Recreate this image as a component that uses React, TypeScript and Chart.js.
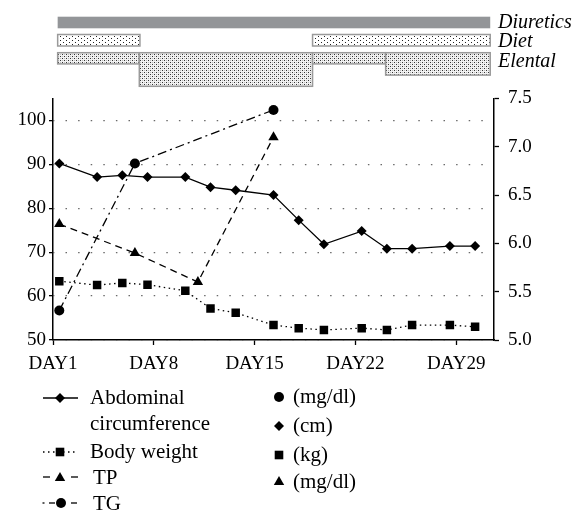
import React, { useEffect, useRef } from 'react';
import { Chart, registerables } from 'chart.js';

Chart.register(...registerables);

// ---- axis ticks ----
const xTickPositions = [0, 8, 16, 24, 32];
const xTickLabels = ['DAY1', 'DAY8', 'DAY15', 'DAY22', 'DAY29'];
const leftTicks = [50, 60, 70, 80, 90, 100];
const rightTicks = [5.0, 5.5, 6.0, 6.5, 7.0, 7.5];

// ---- series ----
const measureX = [0.5, 3.5, 5.5, 7.5, 10.5, 12.5, 14.5, 17.5, 19.5, 21.5, 24.5, 26.5, 28.5, 31.5, 33.5];
const abdominal = [90.2, 87.1, 87.5, 87.1, 87.1, 84.8, 84.1, 83.0, 77.3, 71.8, 74.8, 70.8, 70.8, 71.4, 71.4];
const bodyWeight = [63.4, 62.5, 63.0, 62.6, 61.2, 57.2, 56.2, 53.4, 52.7, 52.3, 52.7, 52.3, 53.4, 53.4, 53.0];
const tpX = [0.5, 6.5, 11.5, 17.5];
const tp = [6.2, 5.9, 5.6, 7.1];
const tgX = [0.5, 6.5, 17.5];
const tg = [56.7, 90.2, 102.4];

// ---- treatment bars (x in chart units) ----
const treatmentLabels = ['Diuretics', 'Diet', 'Elental'];
const diureticsSpans = [[0.37, 34.7]];
const dietSpans = [[0.37, 6.9], [20.6, 34.7]];
const elentalSpans = [[0.37, 6.85], [6.85, 20.6], [20.6, 26.4], [26.4, 34.7]];
const elentalLevels = [1, 3, 1, 2];

// ---- legend ----
const seriesNames = ['Abdominal\ncircumference', 'Body weight', 'TP', 'TG'];
const unitLabels = ['(mg/dl)', '(cm)', '(kg)', '(mg/dl)'];

const FONT = "'Liberation Serif'";

function drawMarker(ctx: CanvasRenderingContext2D, style: string, x: number, y: number) {
  ctx.save();
  ctx.fillStyle = '#000';
  ctx.beginPath();
  if (style === 'circle') {
    ctx.arc(x, y, 5, 0, Math.PI * 2);
  } else if (style === 'diamond') {
    ctx.moveTo(x, y - 5); ctx.lineTo(x + 5, y); ctx.lineTo(x, y + 5); ctx.lineTo(x - 5, y); ctx.closePath();
  } else if (style === 'square') {
    ctx.rect(x - 4.3, y - 4.3, 8.6, 8.6);
  } else if (style === 'triangle') {
    ctx.moveTo(x, y - 6); ctx.lineTo(x + 5.2, y + 3); ctx.lineTo(x - 5.2, y + 3); ctx.closePath();
  }
  ctx.fill();
  ctx.restore();
}

function makePattern(ctx: CanvasRenderingContext2D, w: number, h: number, bg: string, dots: [number, number, string][]) {
  const c = document.createElement('canvas');
  c.width = w; c.height = h;
  const g = c.getContext('2d')!;
  g.fillStyle = bg; g.fillRect(0, 0, w, h);
  dots.forEach(([x, y, col]) => { g.fillStyle = col; g.fillRect(x, y, 1, 1); });
  return ctx.createPattern(c, 'repeat')!;
}

const extrasPlugin = {
  id: 'extras',
  afterDraw(chart: any) {
    const ctx: CanvasRenderingContext2D = chart.ctx;
    const xs = chart.scales.x;
    const px = (v: number) => xs.getPixelForValue(v);
    ctx.save();
    // Diuretics
    ctx.fillStyle = '#939598';
    diureticsSpans.forEach(([a, b]) => ctx.fillRect(px(a), 16.7, px(b) - px(a), 11.6));
    // Diet
    const dietPat = makePattern(ctx, 6, 4, '#ffffff', [[0, 0, '#222'], [3, 2, '#222']]);
    ctx.strokeStyle = '#9a9a9a';
    ctx.lineWidth = 1.5;
    dietSpans.forEach(([a, b]) => {
      ctx.fillStyle = dietPat;
      ctx.fillRect(px(a), 34.5, px(b) - px(a), 11.5);
      ctx.strokeRect(px(a), 34.5, px(b) - px(a), 11.5);
    });
    // Elental
    const elPat = makePattern(ctx, 4, 4, '#f2f2f2', [[0, 0, '#333'], [2, 2, '#333'], [2, 0, '#bbb'], [0, 2, '#bbb']]);
    elentalSpans.forEach(([a, b], i) => {
      const h = 11.2 * elentalLevels[i];
      ctx.fillStyle = elPat;
      ctx.fillRect(px(a), 52.7, px(b) - px(a), h);
      ctx.strokeRect(px(a), 52.7, px(b) - px(a), h);
    });
    // Treatment labels
    ctx.fillStyle = '#000';
    ctx.font = `italic 20px ${FONT}`;
    ctx.textBaseline = 'alphabetic';
    ctx.textAlign = 'left';
    const baselines = [28, 47, 67];
    treatmentLabels.forEach((t, i) => ctx.fillText(t, 498, baselines[i]));

    // Legend left column: line samples
    ctx.strokeStyle = '#000';
    ctx.lineWidth = 1.3;
    const line = (x1: number, x2: number, y: number, dash: number[]) => {
      ctx.setLineDash(dash);
      ctx.beginPath(); ctx.moveTo(x1, y); ctx.lineTo(x2, y); ctx.stroke();
    };
    line(43, 78, 398, []);
    drawMarker(ctx, 'diamond', 60, 398);
    line(43, 78, 452, [1.5, 3.5]);
    drawMarker(ctx, 'square', 60, 452);
    line(43, 50, 477, []);
    line(71, 78, 477, []);
    drawMarker(ctx, 'triangle', 60, 478);
    line(42.5, 44.5, 503, []);
    line(49, 55, 503, []);
    line(71, 77, 503, []);
    drawMarker(ctx, 'circle', 61, 503);
    ctx.setLineDash([]);

    ctx.font = `21px ${FONT}`;
    ctx.fillStyle = '#000';
    const nameLines = seriesNames[0].split('\n');
    ctx.fillText(nameLines[0], 90, 404);
    ctx.fillText(nameLines[1], 90, 430);
    ctx.fillText(seriesNames[1], 90, 458);
    ctx.fillText(seriesNames[2], 93, 484);
    ctx.fillText(seriesNames[3], 93, 510);

    // Legend right column
    const rStyles = ['circle', 'diamond', 'square', 'triangle'];
    const rY = [397, 426, 455, 482];
    const rBase = [403, 432, 461, 488];
    rStyles.forEach((s, i) => {
      drawMarker(ctx, s, 279, rY[i]);
      ctx.fillText(unitLabels[i], 293, rBase[i]);
    });
    ctx.restore();
  },
};

export default function App() {
  const ref = useRef<HTMLCanvasElement>(null);
  useEffect(() => {
    if (!ref.current) return;
    Chart.defaults.font.family = FONT;
    Chart.defaults.color = '#000';
    const chart = new Chart(ref.current, {
      type: 'line',
      data: {
        datasets: [
          {
            label: 'Abdominal circumference',
            data: measureX.map((x, i) => ({ x, y: abdominal[i] })),
            yAxisID: 'y',
            borderColor: '#000',
            backgroundColor: '#000',
            borderWidth: 1.3,
            pointStyle: 'rectRot',
            pointRadius: 5,
            pointBorderWidth: 0,
          },
          {
            label: 'Body weight',
            data: measureX.map((x, i) => ({ x, y: bodyWeight[i] })),
            yAxisID: 'y',
            borderColor: '#000',
            backgroundColor: '#000',
            borderWidth: 1.3,
            borderDash: [1.5, 3.5],
            pointStyle: 'rect',
            pointRadius: 6,
            pointBorderWidth: 0,
          },
          {
            label: 'TP',
            data: tpX.map((x, i) => ({ x, y: tp[i] })),
            yAxisID: 'y2',
            borderColor: '#000',
            backgroundColor: '#000',
            borderWidth: 1.3,
            borderDash: [7, 5],
            pointStyle: 'triangle',
            pointRadius: 6,
            pointBorderWidth: 0,
          },
          {
            label: 'TG',
            data: tgX.map((x, i) => ({ x, y: tg[i] })),
            yAxisID: 'y',
            borderColor: '#000',
            backgroundColor: '#000',
            borderWidth: 1.3,
            borderDash: [9, 4, 2, 4],
            pointStyle: 'circle',
            pointRadius: 5,
            pointBorderWidth: 0,
          },
        ],
      },
      options: {
        animation: false,
        responsive: false,
        maintainAspectRatio: false,
        layout: { padding: { top: 98.5, left: 0, right: 0, bottom: 0 } },
        plugins: { legend: { display: false }, tooltip: { enabled: false } },
        scales: {
          x: {
            type: 'linear',
            min: 0,
            max: 35,
            afterFit: (s: any) => { s.height = 174; },
            afterBuildTicks: (s: any) => { s.ticks = xTickPositions.map((v) => ({ value: v })); },
            ticks: {
              autoSkip: false,
              maxRotation: 0,
              padding: 8,
              font: { size: 19, family: FONT },
              color: '#000',
              callback: (v: any) => xTickLabels[xTickPositions.indexOf(Number(v))] ?? '',
            },
            grid: { drawOnChartArea: false, drawTicks: true, tickLength: 5, tickColor: '#000', tickWidth: 1.3 },
            border: { display: true, color: '#000', width: 1.5 },
          },
          y: {
            type: 'linear',
            position: 'left',
            min: 50,
            max: 105,
            afterFit: (s: any) => { s.width = 53; },
            afterBuildTicks: (s: any) => { s.ticks = leftTicks.map((v) => ({ value: v })); },
            ticks: { padding: 3, font: { size: 19, family: FONT }, color: '#000' },
            grid: {
              display: true,
              drawOnChartArea: true,
              color: '#6a6a6a',
              lineWidth: 1.3,
              drawTicks: true,
              tickLength: 4,
              tickColor: '#000',
              tickWidth: 1.3,
            },
            border: { display: true, color: '#000', width: 1.5, dash: [1.5, 11.1], dashOffset: 0.6 },
          },
          y2: {
            type: 'linear',
            position: 'right',
            min: 5,
            max: 7.5,
            afterFit: (s: any) => { s.width = 81; },
            afterBuildTicks: (s: any) => { s.ticks = rightTicks.map((v) => ({ value: v })); },
            ticks: {
              padding: 9,
              font: { size: 19, family: FONT },
              color: '#000',
              callback: (v: any) => Number(v).toFixed(1),
            },
            grid: { drawOnChartArea: false, drawTicks: true, tickLength: 5, tickColor: '#000', tickWidth: 1.3 },
            border: { display: true, color: '#000', width: 1.5 },
          },
        },
      },
      plugins: [extrasPlugin],
    } as any);
    let alive = true;
    const fl: any = (document as any).fonts;
    if (fl && fl.load) {
      Promise.all([fl.load(`20px ${FONT}`), fl.load(`italic 20px ${FONT}`)])
        .then(() => { if (alive) chart.update(); })
        .catch(() => {});
    }
    return () => { alive = false; chart.destroy(); };
  }, []);
  return (
    <div style={{ position: 'absolute', left: 0, top: 0, width: 575, height: 514 }}>
      <div style={{ position: 'absolute', left: 0, top: 0, visibility: 'hidden', fontFamily: 'Liberation Serif', fontSize: 20 }}>
        <span>DAY1 Abdominal</span>
        <i>Diuretics</i>
      </div>
      <canvas ref={ref} width={575} height={514} style={{ display: 'block', position: 'relative' }} />
    </div>
  );
}
